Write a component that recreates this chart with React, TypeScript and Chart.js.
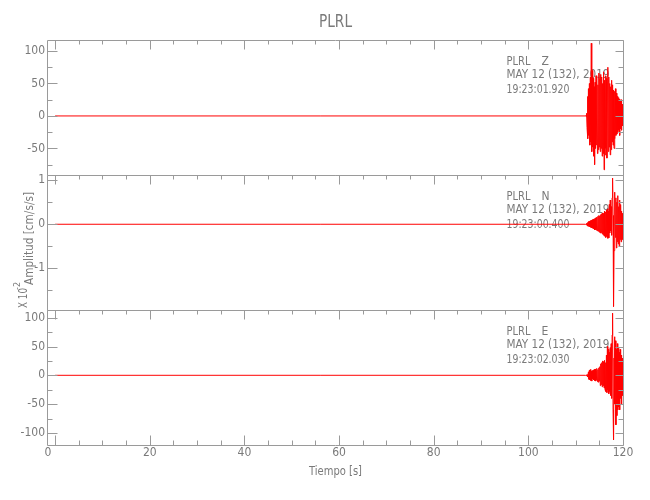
import React, { useEffect, useRef } from 'react';
import { Chart, registerables } from 'chart.js';

Chart.register(...registerables);

// ---------- texts ----------
const TITLE = 'PLRL';
const STATION = 'PLRL';
const COMPONENTS = ['Z', 'N', 'E'];
const DATE_LABEL = 'MAY 12 (132), 2019';
const START_TIMES = ['19:23:01.920', '19:23:00.400', '19:23:02.030'];
const X_LABEL = 'Tiempo [s]';
const Y_LABEL = 'Amplitud [cm/s/s]';
const Y_FACTOR = 'X 10';
const Y_FACTOR_EXP = '-2';

// ---------- axes ----------
const X_MIN = -1.5;
const X_MAX = 120;
const X_TICKS = [0, 20, 40, 60, 80, 100, 120];
const X_TICK_LABELS = ['0', '20', '40', '60', '80', '100', '120'];
const X_MINOR_STEP = 5;

const Z_RANGE = [-91, 117];
const N_RANGE = [-1.95, 1.12];
const E_RANGE = [-121, 113.4];
const Z_TICKS = [-50, 0, 50, 100];
const N_TICKS = [-1, 0, 1];
const E_TICKS = [-100, -50, 0, 50, 100];
const Z_MINOR = 25;
const N_MINOR = 0.5;
const E_MINOR = 25;

// ---------- traces ----------
// quiet part of each trace: sample at t = 0 s, value 0
const QUIET_TIME = 0;
const QUIET_VALUE = 0;
// burst samples start at 112.0 s, one every 0.1 s
const BURST_START = 112.0;
const BURST_STEP = 0.1;

const Z_VALUES = [
  0, 0.5, -1, 4, -18, 30, -35, 42, -30, 50,
  -45, 60, -40, 112, -55, 70, -48, 58, -62, 45,
  -75, 52, -50, 62, -45, 55, -58, 48, -52, 66,
  -48, 58, -55, 64, -50, 60, -62, 50, -58, 68,
  -83, 55, -60, 62, -50, 58, -65, 52, 75, -55,
  60, -48, 50, -60, 45, -52, 55, -40, 48, -45,
  40, -50, 38, -35, 42, -30, 35, -28, 30, -25,
  28, -22, 26, -30, 24, -20, 25, -22, 18, -15,
  10,
];

const N_VALUES = [
  0, 0.005, -0.01, 0.02, -0.03, 0.04, -0.04, 0.06, -0.05, 0.07,
  -0.06, 0.08, -0.07, 0.09, -0.08, 0.1, -0.09, 0.12, -0.1, 0.11,
  -0.13, 0.14, -0.12, 0.15, -0.14, 0.16, -0.15, 0.18, -0.16, 0.2,
  -0.18, 0.19, -0.2, 0.22, -0.19, 0.24, -0.22, 0.26, -0.24, 0.25,
  -0.27, 0.3, -0.25, 0.28, -0.3, 0.32, -0.28, 0.35, -0.32, 0.3,
  -0.31, 0.45, -0.2, 0.55, -0.15, 0.4, -0.25, 0.6, 1.05, 0.2,
  -1.87, -0.6, 0.35, 0.73, -0.3, 0.6, -0.54, 0.5, -0.4, 0.65,
  -0.45, 0.4, -0.5, 0.55, -0.35, 0.45, -0.4, 0.3, -0.35, 0.25,
  -0.1,
];

const E_VALUES = [
  0, 0.5, -0.5, 1, -1, 1.5, -3, 6, -7, 9,
  -8, 10, -9, 7, -10, 8, -6, 9, -8, 10,
  -9, 11, -10, 8, -9, 12, -11, 10, -12, 13,
  -10, 15, -18, 20, -16, 22, -20, 25, -18, 24,
  -22, 26, -25, 22, -28, 35, -30, 50, -25, 45,
  -32, 40, -28, 48, -35, 55, -40, 70, 108, -60,
  -112, 30, 67, -50, 60, -86, 45, -70, 55, -60,
  47, -55, 40, -60, 45, -40, 35, -50, 30, -35,
  10,
];

// ---------- style ----------
const FONT = '"Liberation Sans Narrow", "DejaVu Sans Condensed", "Open Sans", sans-serif';
const TEXT_COLOR = '#7a7a7a';
const AXIS_COLOR = '#9a9a9a';
const TRACE_COLOR = '#ff0000';

function toPoints(values: number[]) {
  const pts = [{ x: QUIET_TIME, y: QUIET_VALUE }];
  values.forEach((v, i) => {
    pts.push({ x: +(BURST_START + i * BURST_STEP).toFixed(2), y: v });
  });
  return pts;
}

const PANELS = [
  { id: 'yZ', ticks: Z_TICKS, minor: Z_MINOR, comp: COMPONENTS[0], time: START_TIMES[0] },
  { id: 'yN', ticks: N_TICKS, minor: N_MINOR, comp: COMPONENTS[1], time: START_TIMES[1] },
  { id: 'yE', ticks: E_TICKS, minor: E_MINOR, comp: COMPONENTS[2], time: START_TIMES[2] },
];

const panelPlugin = {
  id: 'seismoPanels',
  beforeDatasetsDraw(chart: any) {
    // station annotations sit under the traces
    const ctx = chart.ctx as CanvasRenderingContext2D;
    const { right } = chart.chartArea;
    ctx.save();
    ctx.fillStyle = TEXT_COLOR;
    ctx.font = `12px ${FONT}`;
    ctx.textAlign = 'left';
    ctx.textBaseline = 'middle';
    PANELS.forEach((p) => {
      const ys = chart.scales[p.id];
      const ax = right - 116.5;
      ctx.fillText(STATION, ax, ys.top + 21.5, 24);
      ctx.fillText(p.comp, ax + 35, ys.top + 21.5);
      ctx.fillText(DATE_LABEL, ax, ys.top + 35, 103);
      ctx.fillText(p.time, ax, ys.top + 49.5, 63);
    });
    ctx.restore();
  },
  afterDraw(chart: any) {
    const ctx = chart.ctx as CanvasRenderingContext2D;
    const { left, right } = chart.chartArea;
    const xs = chart.scales.x;
    const L = Math.round(left) - 0.5;
    const R = Math.round(right) + 0.5;
    ctx.save();
    ctx.strokeStyle = AXIS_COLOR;
    ctx.lineWidth = 1;

    PANELS.forEach((p, idx) => {
      const ys = chart.scales[p.id];
      const T = Math.round(ys.top) + 0.5;
      const B = Math.round(ys.bottom) + 0.5;
      ctx.beginPath();
      ctx.rect(L, T, R - L, B - T);
      ctx.stroke();

      ctx.beginPath();
      for (let v = 0; v <= X_MAX + 1e-9; v += X_MINOR_STEP) {
        const px = Math.round(xs.getPixelForValue(v)) + 0.5;
        const major = X_TICKS.includes(v);
        ctx.moveTo(px, T);
        ctx.lineTo(px, T + (major ? 9 : 4));
        if (idx === PANELS.length - 1) {
          ctx.moveTo(px, B);
          ctx.lineTo(px, B - (major ? 10 : 5));
        }
      }
      const start = Math.ceil(ys.min / p.minor) * p.minor;
      for (let v = start; v <= ys.max + 1e-9; v += p.minor) {
        const vv = +v.toFixed(6);
        const py = Math.round(ys.getPixelForValue(vv)) + 0.5;
        const major = p.ticks.some((t) => Math.abs(t - vv) < 1e-6);
        ctx.moveTo(L, py);
        ctx.lineTo(L + (major ? 10 : 5), py);
        ctx.moveTo(R, py);
        ctx.lineTo(R - (major ? 8 : 5), py);
      }
      ctx.stroke();
    });

    // title
    ctx.fillStyle = TEXT_COLOR;
    ctx.font = `18px ${FONT}`;
    ctx.textAlign = 'center';
    ctx.textBaseline = 'middle';
    ctx.fillText(TITLE, (left + right) / 2, 22, 33);

    // x label
    ctx.font = `13px ${FONT}`;
    ctx.fillText(X_LABEL, (left + right) / 2, 471.5, 53);

    // y label (rotated)
    ctx.textAlign = 'left';
    ctx.textBaseline = 'alphabetic';
    ctx.save();
    ctx.translate(33, 285);
    ctx.rotate(-Math.PI / 2);
    ctx.font = `13px ${FONT}`;
    ctx.fillText(Y_LABEL, 0, 0, 93);
    ctx.restore();

    ctx.save();
    ctx.translate(27, 308);
    ctx.rotate(-Math.PI / 2);
    ctx.font = `12px ${FONT}`;
    ctx.fillText(Y_FACTOR, 0, 0, 20);
    ctx.restore();

    ctx.save();
    ctx.translate(20, 290);
    ctx.rotate(-Math.PI / 2);
    ctx.font = `9px ${FONT}`;
    ctx.fillText(Y_FACTOR_EXP, 0, 0, 10);
    ctx.restore();

    ctx.restore();
  },
};

function yAxis(range: number[], ticks: number[]) {
  return {
    type: 'linear' as const,
    position: 'left' as const,
    stack: 'panels',
    stackWeight: 1,
    min: range[0],
    max: range[1],
    grid: { display: false, drawTicks: false },
    border: { display: false },
    ticks: {
      color: TEXT_COLOR,
      font: { family: FONT, size: 12 },
      padding: 3,
      autoSkip: false,
    },
    afterFit: (s: any) => {
      s.width = 48;
    },
    afterBuildTicks: (s: any) => {
      s.ticks = ticks.map((v) => ({ value: v }));
    },
  };
}

export default function App() {
  const ref = useRef<HTMLCanvasElement | null>(null);

  useEffect(() => {
    if (!ref.current) return;
    const traceStyle = {
      borderColor: TRACE_COLOR,
      borderWidth: 1,
      pointRadius: 0,
      tension: 0,
      fill: false,
    };
    const chart = new Chart(ref.current, {
      type: 'line',
      data: {
        datasets: [
          { label: 'Z', data: toPoints(Z_VALUES), yAxisID: 'yZ', ...traceStyle },
          { label: 'N', data: toPoints(N_VALUES), yAxisID: 'yN', ...traceStyle },
          { label: 'E', data: toPoints(E_VALUES), yAxisID: 'yE', ...traceStyle },
        ],
      },
      options: {
        responsive: false,
        animation: false,
        layout: { padding: { top: 40, right: 27, left: 0, bottom: 0 } },
        plugins: {
          legend: { display: false },
          tooltip: { enabled: false },
          title: { display: false },
        },
        scales: {
          x: {
            type: 'linear',
            position: 'bottom',
            min: X_MIN,
            max: X_MAX,
            grid: { display: false, drawTicks: false },
            border: { display: false },
            ticks: {
              color: TEXT_COLOR,
              font: { family: FONT, size: 12 },
              padding: 1,
              autoSkip: false,
              maxRotation: 0,
              callback: (_v: any, i: number) => X_TICK_LABELS[i],
            },
            afterFit: (s: any) => {
              s.height = 55;
            },
            afterBuildTicks: (s: any) => {
              s.ticks = X_TICKS.map((v, i) => ({ value: i === 0 ? X_MIN : v }));
            },
          },
          yE: yAxis(E_RANGE, E_TICKS),
          yN: yAxis(N_RANGE, N_TICKS),
          yZ: yAxis(Z_RANGE, Z_TICKS),
        } as any,
      },
      plugins: [panelPlugin],
    });
    return () => chart.destroy();
  }, []);

  return (
    <div style={{ position: 'fixed', left: 0, top: 0, width: 650, height: 500, background: '#fff' }}>
      <canvas ref={ref} width={650} height={500} style={{ display: 'block' }} />
    </div>
  );
}
